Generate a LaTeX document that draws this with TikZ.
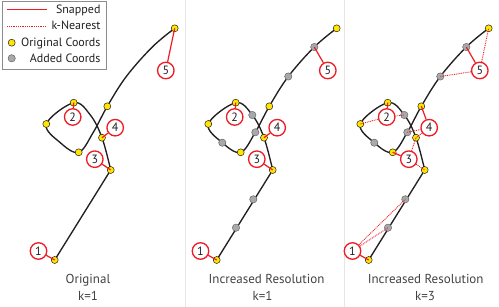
\documentclass[tikz,border=0pt]{standalone}
\usepackage{fontspec}
\setmainfont{PT Sans}
\definecolor{cRed}{HTML}{ED1C24}
\definecolor{cYel}{HTML}{FFE500}
\definecolor{cGray}{HTML}{A7A9AC}
\definecolor{cInk}{HTML}{231F20}
\definecolor{cRule}{HTML}{E6E6E6}
\tikzset{
 curve/.style={draw=cInk, line width=1.35pt},
 ydot/.style={circle, fill=cYel, draw=cInk, line width=0.5pt, minimum size=7pt, inner sep=0pt},
 gdot/.style={circle, fill=cGray, draw=black!60, line width=0.5pt, minimum size=7.3pt, inner sep=0pt},
 snap/.style={draw=cRed, line width=1.2pt},
 knn/.style={draw=cRed, line width=0.9pt, dash pattern=on 0.9pt off 0.9pt},
 lbl/.style={circle, draw=cRed, fill=white, line width=1.3pt, minimum size=16.5pt, inner sep=0pt, font=\fontsize{12}{12}\selectfont, text=cInk},
 captxt/.style={font=\fontsize{13}{14}\selectfont, text=cInk!85, anchor=base},
 legtxt/.style={font=\fontsize{12}{12}\selectfont, anchor=base east, text=cInk},
}
\newcommand\basecurve[1]{%
 \coordinate (#1A) at (216.7,260);
 \coordinate (#1P) at (236,227.7);
 \coordinate (#1Q) at (253.3,199.3);
 \coordinate (#1B) at (272.7,170);
 \coordinate (#1C) at (264,137.7);
 \coordinate (#1E) at (252.3,115);
 \coordinate (#1D) at (235.7,102.7);
 \coordinate (#1F) at (208.3,124);
 \coordinate (#1G) at (222.3,142.7);
 \coordinate (#1H) at (240.7,152.3);
 \coordinate (#1I) at (255.3,132.3);
 \coordinate (#1J) at (269.3,106.3);
 \coordinate (#1K) at (288.3,76.5);
 \coordinate (#1L) at (314.3,47);
 \coordinate (#1M) at (336.7,28.3);
 \draw[curve] (#1A) -- (#1B);
 \draw[curve] plot[smooth, tension=0.6] coordinates {(#1B) (#1C) (#1E) (#1D) (#1F) (#1G) (#1H) (#1I) (#1J) (#1K) (#1L) (#1M)};
}
\newcommand\yellowdots[1]{%
 \foreach \p in {A,B,C,D,F,H,J,M} {\node[ydot] (#1d\p) at (#1\p) {};}
}
\newcommand\graydots[1]{%
 \foreach \p in {P,Q,E,G,I,K,L} {\node[gdot] (#1d\p) at (#1\p) {};}
}
\newcommand\labels[1]{%
 \node[lbl] (#1n1) at (200.5,251) {1};
 \node[lbl] (#1n2) at (234.7,117) {2};
 \node[lbl] (#1n3) at (256.8,159.2) {3};
 \node[lbl] (#1n4) at (277.2,127.7) {4};
 \node[lbl] (#1n5) at (327.8,70.5) {5};
}
\begin{document}
\begin{tikzpicture}[x=1pt, y=-1pt]
\useasboundingbox (0,0) rectangle (499,307);
% dividers
\coordinate (v1t) at (185.7,0); \coordinate (v1b) at (185.7,307);
\coordinate (v2t) at (344,0); \coordinate (v2b) at (344,307);
\draw[cRule, line width=0.8pt] (v1t) -- (v1b);
\draw[cRule, line width=0.8pt] (v2t) -- (v2b);

% panel 1
\begin{scope}[xshift=-162pt]
 \basecurve{a}
 \yellowdots{a}
 \labels{a}
 \draw[snap] (an1) -- (aA);
 \draw[snap] (an2) -- (aD);
 \draw[snap] (an3) -- (aB);
 \draw[snap] (an4) -- (aC);
 \draw[snap] (an5) -- (aM);
\end{scope}

% panel 2
\begin{scope}
 \basecurve{b}
 \yellowdots{b}
 \graydots{b}
 \labels{b}
 \draw[snap] (bn1) -- (bA);
 \draw[snap] (bn2) -- (bD);
 \draw[snap] (bn3) -- (bB);
 \draw[snap] (bn4) -- (bC);
 \draw[snap] (bn5) -- (bL);
\end{scope}

% panel 3
\begin{scope}[xshift=152pt]
 \basecurve{c}
 \yellowdots{c}
 \graydots{c}
 \labels{c}
 \draw[snap] (cn1) -- (cA);
 \draw[knn] (cn1) -- (cP);
 \draw[knn] (cn1) -- (cQ);
 \draw[snap] (cn2) -- (cD);
 \draw[knn] (cn2) -- (cF);
 \draw[knn] (cn2) -- (cE);
 \draw[snap] (cn3) -- (cH);
 \draw[knn] (cn3) -- (cB);
 \draw[knn] (cn3) -- (cC);
 \draw[snap] (cn4) -- (cJ);
 \draw[knn] (cn4) -- (cI);
 \draw[knn] (cn4) -- (cC);
 \draw[snap] (cn5) -- (cL);
 \draw[knn] (cn5) -- (cM);
 \draw[knn] (cn5) -- (cK);
\end{scope}

% captions
\node[captxt] (t1) at (88,284) {Original};
\node[captxt] (k1) at (88,301) {k=1};
\node[captxt] (t2) at (266.5,284) {Increased Resolution};
\node[captxt] (k2) at (262.5,301) {k=1};
\node[captxt] (t3) at (425.7,284) {Increased Resolution};
\node[captxt] (k3) at (425,301) {k=3};

% legend
\coordinate (lg0) at (2.5,1.5); \coordinate (lg1) at (106,69);
\draw[black!45, line width=0.6pt, fill=white] (lg0) rectangle (lg1);
\coordinate (ls0) at (7.3,8.7); \coordinate (ls1) at (46.7,10.3);
\fill[cRed] (ls0) rectangle (ls1);
\coordinate (lk0) at (7.3,26.5); \coordinate (lk1) at (46.7,26.5);
\draw[knn] (lk0) -- (lk1);
\node[ydot] (ly) at (11.7,42.7) {};
\node[gdot] (lgr) at (11.7,58.3) {};
\node[legtxt] (lt1) at (104,13.3) {Snapped};
\node[legtxt] (lt2) at (104,30) {k-Nearest};
\node[legtxt] (lt3) at (104,46.7) {Original Coords};
\node[legtxt] (lt4) at (104,62.7) {Added Coords};
\end{tikzpicture}
\end{document}
